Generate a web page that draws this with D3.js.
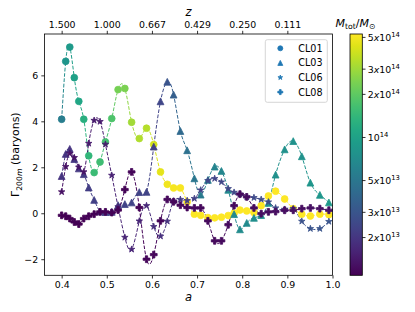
<!DOCTYPE html>
<html lang="en">
<head>
  <meta charset="UTF-8">
  <title>Gamma 200m baryons vs a</title>
  <script src="https://cdn.jsdelivr.net/npm/d3@7/dist/d3.min.js"></script>
</head>
<body style="margin:0;background:#fff">
<style>
  text { font-family: "DejaVu Sans", sans-serif; fill: #000; }
  .axis .domain { display: none; }
  .axis line { stroke: #000; stroke-width: 0.8px; }
  .curve { fill: none; stroke-width: 1px; stroke-dasharray: 3.7 1.6; }
</style>
<svg width="415" height="312"></svg>
<script>

// snapshot scale factors (shared by all clusters)
var aSnap = [0.400, 0.409, 0.418, 0.428, 0.438, 0.449, 0.460, 0.472, 0.485, 0.497,
             0.511, 0.525, 0.540, 0.555, 0.572, 0.588, 0.604, 0.619, 0.634, 0.648,
             0.663, 0.678, 0.694, 0.708, 0.724, 0.739, 0.754, 0.769, 0.782, 0.795,
             0.810, 0.826, 0.842, 0.858, 0.874, 0.894, 0.913, 0.932, 0.951, 0.972, 0.992];

var clusterNames = ["CL01", "CL03", "CL06", "CL08"];

var gammaCL01 = [4.09, 6.61, 7.23, 5.90, 4.87, 4.09, 2.50, 1.77, 2.23, 3.10,
                 4.12, 5.38, 5.43, 3.96, 3.25, 3.70, 2.99, 1.80, 1.26, 1.10,
                 1.10, 0.49, -0.04, -0.09, -0.19, -0.20, -0.17, -0.10, 0.00, 0.14,
                 0.10, 0.03, 0.33, 0.75, 0.96, 0.62, 0.20, -0.04, -0.12, -0.04, -0.06];
var gammaCL03 = [1.62, 2.58, 2.80, 2.36, 1.95, 1.70, 1.12, 0.58, 0.08, 0.05,
                 0.06, 0.35, 0.40, 0.47, 0.92, 0.93, 2.90, 4.87, 5.72, 5.16,
                 3.58, 2.74, 1.52, 0.81, 1.45, 2.03, 1.84, 1.02, -0.04, -0.70,
                 -0.42, -0.20, -0.08, 0.45, 1.68, 2.78, 3.14, 2.48, 1.33, 0.80, 0.47];
var gammaCL06 = [0.93, 2.03, 2.60, 2.42, 2.00, 1.80, 3.04, 4.04, 3.99, 3.00,
                 1.65, 0.28, -1.05, -1.57, -0.34, 0.33, -0.58, -1.00, -0.35, 0.53,
                 0.60, 0.55, 0.64, 1.01, 1.42, 1.51, 1.36, 1.07, 0.91, 0.83,
                 0.71, 0.68, 0.60, 0.49, 0.23, 0.17, 0.20, -0.35, -0.67, -0.67, -0.36];
var gammaCL08 = [-0.09, -0.13, -0.23, -0.38, -0.47, -0.23, -0.13, -0.04, 0.06, 0.06,
                 0.03, 0.14, 1.03, 1.80, 0.25, -2.00, -1.80, -0.33, 0.60, 0.50,
                 0.35, 0.25, 0.23, 0.23, -0.33, -1.20, -1.20, -0.50, 0.33, 0.83,
                 0.71, 0.23, -0.02, 0.06, 0.07, 0.13, 0.13, 0.20, 0.23, 0.20, 0.13];

// total mass, in units of 1e13 Msun
var massCL01 = [5.6, 8.2, 8.9, 10.0, 10.8, 12.6, 14.1, 15.3, 15.9, 16.5,
                17.8, 23.4, 24.3, 30.7, 33.2, 34.5, 40.3, 45.3, 48.9, 50.0,
                50.9, 51.5, 51.8, 52.0, 52.1, 52.2, 52.2, 52.3, 52.3, 52.4,
                52.4, 52.5, 52.5, 52.6, 52.6, 52.6, 52.7, 52.7, 52.7, 52.8, 52.8];
var massCL03 = [1.95, 1.95, 1.95, 2.03, 2.03, 2.11, 2.19, 2.28, 2.28, 2.28,
                2.37, 2.37, 2.37, 2.37, 2.37, 2.37, 2.30, 2.45, 3.0, 3.5,
                4.1, 4.6, 5.0, 5.35, 5.8, 6.3, 6.5, 6.8, 6.8, 7.0,
                7.0, 7.3, 7.3, 7.6, 7.6, 7.6, 7.9, 7.9, 8.2, 8.5, 8.9];
var massCL06 = [1.30, 1.30, 1.31, 1.32, 1.33, 1.34, 1.42, 1.44, 1.45, 1.47,
                1.55, 1.58, 1.60, 1.62, 1.65, 1.68, 1.80, 1.85, 1.90, 1.95,
                2.10, 2.20, 2.30, 2.35, 2.40, 2.42, 2.45, 2.48, 2.50, 2.52,
                2.55, 2.58, 2.60, 2.62, 2.64, 2.66, 2.70, 2.90, 2.95, 3.00, 3.00];
var massCL08 = [1.09, 1.10, 1.10, 1.11, 1.10, 1.11, 1.12, 1.11, 1.12, 1.13,
                1.12, 1.14, 1.13, 1.15, 1.14, 1.15, 1.17, 1.16, 1.18, 1.17,
                1.19, 1.18, 1.20, 1.19, 1.21, 1.20, 1.22, 1.21, 1.23, 1.22,
                1.24, 1.23, 1.25, 1.24, 1.26, 1.25, 1.27, 1.26, 1.27, 1.28, 1.28];

var aTicks = [0.4, 0.5, 0.6, 0.7, 0.8, 0.9, 1.0];
var gammaTicks = [-2, 0, 2, 4, 6];
var massTicks = [2, 3, 5, 10, 20, 30, 50];   // 1e13 Msun

// ---- matplotlib-like marker shapes (size = marker width squared) ----
var shapes = {
  circle: { draw: function(c, size) {
    var r = Math.sqrt(size) / 2;
    c.moveTo(r, 0); c.arc(0, 0, r, 0, 2 * Math.PI); } },
  triangle: { draw: function(c, size) {
    var h = Math.sqrt(size) / 2;
    c.moveTo(0, -h); c.lineTo(h, h); c.lineTo(-h, h); c.closePath(); } },
  star: { draw: function(c, size) {
    var R = Math.sqrt(size) / 2, r = R * 0.381966;
    for (var i = 0; i < 10; i++) {
      var ang = -Math.PI / 2 + i * Math.PI / 5, rr = i % 2 ? r : R;
      if (i == 0) c.moveTo(rr * Math.cos(ang), rr * Math.sin(ang));
      else c.lineTo(rr * Math.cos(ang), rr * Math.sin(ang));
    }
    c.closePath(); } },
  plus: { draw: function(c, size) {
    var u = Math.sqrt(size) / 6;
    var pts = [[-1,-3],[1,-3],[1,-1],[3,-1],[3,1],[1,1],[1,3],[-1,3],[-1,1],[-3,1],[-3,-1],[-1,-1]];
    pts.forEach(function(p, i) { if (i == 0) c.moveTo(p[0]*u, p[1]*u); else c.lineTo(p[0]*u, p[1]*u); });
    c.closePath(); } }
};

var series = [
  { name: clusterNames[0], shape: shapes.circle,   gamma: gammaCL01, mass: massCL01 },
  { name: clusterNames[1], shape: shapes.triangle, gamma: gammaCL03, mass: massCL03 },
  { name: clusterNames[2], shape: shapes.star,     gamma: gammaCL06, mass: massCL06 },
  { name: clusterNames[3], shape: shapes.plus,     gamma: gammaCL08, mass: massCL08 }
];

var svg = d3.select("svg");
var L = 44.5, R = 332.5, T = 34, B = 275.3;

var x = d3.scaleLinear().domain([0.362, 1.0]).range([L, R]);
var y = d3.scaleLinear().domain([-2.7, 7.8]).range([B, T]);

var allMass = [].concat(massCL01, massCL03, massCL06, massCL08);
var color = d3.scaleSequentialLog(d3.interpolateViridis).domain(d3.extent(allMass));

var defs = svg.append("defs");

// ---- curves: natural spline, coloured along a with a gradient ----
var line = d3.line()
    .x(function(d) { return x(d[0]); })
    .y(function(d) { return y(d[1]); })
    .curve(d3.curveNatural);

series.forEach(function(s, k) {
  var x0 = x(aSnap[0]), x1 = x(aSnap[aSnap.length - 1]);
  var grad = defs.append("linearGradient")
      .attr("id", "grad" + k)
      .attr("gradientUnits", "userSpaceOnUse")
      .attr("x1", x0).attr("x2", x1).attr("y1", 0).attr("y2", 0);
  grad.selectAll("stop")
    .data(aSnap)
    .enter().append("stop")
      .attr("offset", function(a) { return (x(a) - x0) / (x1 - x0); })
      .attr("stop-color", function(a, i) { return color(s.mass[i]); });

  svg.append("path")
      .attr("class", "curve")
      .attr("stroke", "url(#grad" + k + ")")
      .attr("d", line(aSnap.map(function(a, i) { return [a, s.gamma[i]]; })));
});

// ---- markers ----
series.forEach(function(s) {
  svg.append("g")
    .selectAll("path")
    .data(aSnap)
    .enter().append("path")
      .attr("transform", function(a, i) { return "translate(" + x(a) + "," + y(s.gamma[i]) + ")"; })
      .attr("d", d3.symbol().type(s.shape).size(6.8 * 6.8))
      .attr("fill", function(a, i) { return color(s.mass[i]); })
      .attr("stroke", function(a, i) { return color(s.mass[i]); })
      .attr("stroke-width", 0.8);
});

// ---- frame ----
svg.append("rect")
    .attr("x", L).attr("y", T).attr("width", R - L).attr("height", B - T)
    .attr("fill", "none").attr("stroke", "#000").attr("stroke-width", 0.8);

// ---- axes ----
function styleAxis(g) {
  g.attr("class", "axis").attr("font-family", null).attr("font-size", null);
  g.selectAll("text").style("font-size", "9.4px");
}

svg.append("g")
    .attr("transform", "translate(0," + B + ")")
    .call(d3.axisBottom(x).tickValues(aTicks).tickFormat(d3.format(".1f"))
          .tickSize(3.2).tickPadding(3.2))
    .call(styleAxis);

svg.append("g")
    .attr("transform", "translate(0," + T + ")")
    .call(d3.axisTop(x).tickValues(aTicks.slice(0, 6))
          .tickFormat(function(a) { return (1 / a - 1).toFixed(3); })
          .tickSize(3.2).tickPadding(3.2))
    .call(styleAxis);

svg.append("g")
    .attr("transform", "translate(" + L + ",0)")
    .call(d3.axisLeft(y).tickValues(gammaTicks)
          .tickFormat(function(v) { return v < 0 ? "\u2212" + (-v) : v; })
          .tickSize(3.2).tickPadding(3.2))
    .call(styleAxis);

// axis labels
svg.append("text")
    .attr("x", (L + R) / 2).attr("y", 301)
    .attr("text-anchor", "middle").style("font-size", "11.5px").style("font-style", "italic")
    .text("a");

svg.append("text")
    .attr("x", (L + R) / 2).attr("y", 15.5)
    .attr("text-anchor", "middle").style("font-size", "11.5px").style("font-style", "italic")
    .text("z");

var yl = svg.append("text")
    .attr("transform", "translate(19," + ((T + B) / 2) + ") rotate(-90)")
    .attr("text-anchor", "middle").style("font-size", "11px");
yl.append("tspan").text("\u0393");
yl.append("tspan").attr("dy", 2.6).style("font-size", "7.7px").text("200");
yl.append("tspan").style("font-size", "7.7px").style("font-style", "italic").text("m");
yl.append("tspan").attr("dy", -2.6).text(" (baryons)");

// ---- legend ----
var leg = svg.append("g");
leg.append("rect")
    .attr("x", 265.3).attr("y", 39.7).attr("width", 62).attr("height", 62.6)
    .attr("rx", 2).attr("fill", "#fff").attr("fill-opacity", 0.8)
    .attr("stroke", "#ccc").attr("stroke-width", 0.8);
series.forEach(function(s, i) {
  var yy = 48.3 + i * 14.6;
  leg.append("path")
      .attr("transform", "translate(280.3," + yy + ")")
      .attr("d", d3.symbol().type(s.shape).size(5 * 5))
      .attr("fill", "#1f77b4").attr("stroke", "#1f77b4").attr("stroke-width", 0.8);
  leg.append("text")
      .attr("x", 298.3).attr("y", yy + 3.4)
      .style("font-size", "9.6px")
      .text(s.name);
});

// ---- colorbar ----
var cbX = 350, cbW = 12.3;
var cy = d3.scaleLog().domain(color.domain()).range([B, T]);
var cgrad = defs.append("linearGradient")
    .attr("id", "cbar").attr("x1", 0).attr("x2", 0).attr("y1", 1).attr("y2", 0);
cgrad.selectAll("stop")
  .data(d3.range(0, 1.0001, 0.05))
  .enter().append("stop")
    .attr("offset", function(t) { return t; })
    .attr("stop-color", function(t) { return d3.interpolateViridis(t); });
svg.append("rect")
    .attr("x", cbX).attr("y", T).attr("width", cbW).attr("height", B - T)
    .attr("fill", "url(#cbar)").attr("stroke", "#000").attr("stroke-width", 0.8);

var cticks = svg.append("g").selectAll("g")
  .data(massTicks)
  .enter().append("g")
    .attr("transform", function(m) { return "translate(" + (cbX + cbW) + "," + cy(m) + ")"; });
cticks.append("line").attr("x2", 3.2).attr("stroke", "#000").attr("stroke-width", 0.8);
var ctext = cticks.append("text")
    .attr("x", 5.5).attr("y", 3.4).style("font-size", "9.4px");
ctext.each(function(m) {
  var t = d3.select(this);
  var expo = m >= 10 ? 14 : 13, mant = m >= 10 ? m / 10 : m;
  if (mant != 1) {
    t.append("tspan").text(mant);
    t.append("tspan").style("font-style", "italic").text("x");
  }
  t.append("tspan").text("10");
  t.append("tspan").attr("dy", -4).style("font-size", "6.8px").text(expo);
});

var cl = svg.append("text")
    .attr("x", 355.5).attr("y", 27)
    .attr("text-anchor", "middle").style("font-size", "11px");
cl.append("tspan").style("font-style", "italic").text("M");
cl.append("tspan").attr("dy", 2.4).style("font-size", "7.7px").text("tot");
cl.append("tspan").attr("dy", -2.4).text("/");
cl.append("tspan").style("font-style", "italic").text("M");
cl.append("tspan").attr("dy", 2.4).style("font-size", "7.7px").text("\u2299");

</script>
</body>
</html>
